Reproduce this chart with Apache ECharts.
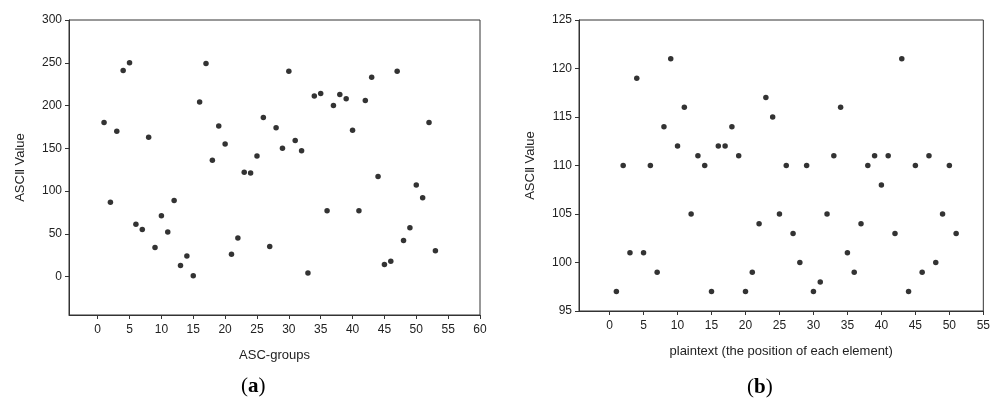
<!DOCTYPE html>
<html>
<head>
<meta charset="utf-8">
<script src="https://cdn.jsdelivr.net/npm/echarts@6/dist/echarts.min.js"></script>
<style>
  html, body { margin: 0; padding: 0; background: #fff; }
  #chart { width: 993px; height: 400px; }
</style>
</head>
<body>
<div id="chart"></div>
<script>
// (a) ASCII value per ASC-group
const groupsA = [1, 2, 3, 4, 5, 6, 7, 8, 9, 10, 11, 12, 13, 14, 15, 16, 17, 18, 19, 20,
  21, 22, 23, 24, 25, 26, 27, 28, 29, 30, 31, 32, 33, 34, 35, 36, 37, 38, 39, 40,
  41, 42, 43, 44, 45, 46, 47, 48, 49, 50, 51, 52, 53];
const valuesA = [180, 87, 170, 241, 250, 61, 55, 163, 34, 71, 52, 89, 13, 24, 1, 204, 249, 136, 176, 155,
  26, 45, 122, 121, 141, 186, 35, 174, 150, 240, 159, 147, 4, 211, 214, 77, 200, 213, 208, 171,
  77, 206, 233, 117, 14, 18, 240, 42, 57, 107, 92, 180, 30];

// (b) ASCII value per plaintext position
const positionsB = [1, 2, 3, 4, 5, 6, 7, 8, 9, 10, 11, 12, 13, 14, 15, 16, 17, 18, 19, 20,
  21, 22, 23, 24, 25, 26, 27, 28, 29, 30, 31, 32, 33, 34, 35, 36, 37, 38, 39, 40,
  41, 42, 43, 44, 45, 46, 47, 48, 49, 50, 51];
const valuesB = [97, 110, 101, 119, 101, 110, 99, 114, 121, 112, 116, 105, 111, 110, 97, 112, 112, 114, 111, 97,
  99, 104, 117, 115, 105, 110, 103, 100, 110, 97, 98, 105, 111, 116, 101, 99, 104, 110, 111, 108,
  111, 103, 121, 97, 110, 99, 111, 100, 105, 110, 103];

const xTicksA = [0, 5, 10, 15, 20, 25, 30, 35, 40, 45, 50, 55, 60];
const yTicksA = [0, 50, 100, 150, 200, 250, 300];
const xTicksB = [0, 5, 10, 15, 20, 25, 30, 35, 40, 45, 50, 55];
const yTicksB = [95, 100, 105, 110, 115, 120, 125];

const axisColor = '#333';
const labelFont = { color: '#222', fontSize: 12, fontFamily: 'Liberation Sans, Arial, sans-serif' };
const nameFont = { color: '#222', fontSize: 13, fontFamily: 'Liberation Sans, Arial, sans-serif' };

function xAxis(gridIndex, min, max, ticks, name) {
  return {
    type: 'value', gridIndex, min, max,
    name, nameLocation: 'middle', nameGap: 34, nameTextStyle: nameFont,
    axisLine: { show: true, onZero: false, lineStyle: { color: axisColor, width: 1 } },
    axisTick: { show: true, length: 4, customValues: ticks, lineStyle: { color: axisColor } },
    axisLabel: { customValues: ticks, margin: 9, ...labelFont },
    splitLine: { show: false }
  };
}

function yAxis(gridIndex, min, max, ticks) {
  return {
    type: 'value', gridIndex, min, max,
    name: 'ASCⅡ Value', nameLocation: 'middle', nameGap: 42, nameTextStyle: nameFont,
    axisLine: { show: true, onZero: false, lineStyle: { color: axisColor, width: 1 } },
    axisTick: { show: true, length: 4, customValues: ticks, lineStyle: { color: axisColor } },
    axisLabel: { customValues: ticks, margin: 7, ...labelFont },
    splitLine: { show: false }
  };
}

const chart = echarts.init(document.getElementById('chart'));

chart.setOption({
  animation: false,
  backgroundColor: '#fff',
  grid: [
    { left: 69, top: 20, right: 513, bottom: 85, show: true, borderColor: axisColor, borderWidth: 1 },
    { left: 579, top: 20, right: 9, bottom: 89, show: true, borderColor: axisColor, borderWidth: 1 }
  ],
  xAxis: [
    xAxis(0, -4.5, 60, xTicksA, 'ASC-groups'),
    xAxis(1, -4.5, 55, xTicksB, 'plaintext (the position of each element)')
  ],
  yAxis: [
    yAxis(0, -45, 300, yTicksA),
    yAxis(1, 95, 125, yTicksB)
  ],
  series: [
    {
      type: 'scatter', xAxisIndex: 0, yAxisIndex: 0,
      symbolSize: 5.5, itemStyle: { color: '#000' },
      data: groupsA.map((g, i) => [g, valuesA[i]])
    },
    {
      type: 'scatter', xAxisIndex: 1, yAxisIndex: 1,
      symbolSize: 5.5, itemStyle: { color: '#000' },
      data: positionsB.map((p, i) => [p, valuesB[i]])
    }
  ],
  graphic: [
    {
      type: 'text', left: 241, top: 376,
      style: {
        text: '(' + '{b|a}' + ')',
        font: '21px "Liberation Serif", serif', fill: '#000',
        rich: { b: { fontWeight: 'bold', fontSize: 21, fontFamily: 'Liberation Serif' } }
      }
    },
    {
      type: 'text', left: 747, top: 377,
      style: {
        text: '(' + '{b|b}' + ')',
        font: '21px "Liberation Serif", serif', fill: '#000',
        rich: { b: { fontWeight: 'bold', fontSize: 21, fontFamily: 'Liberation Serif' } }
      }
    }
  ]
});
</script>
</body>
</html>
